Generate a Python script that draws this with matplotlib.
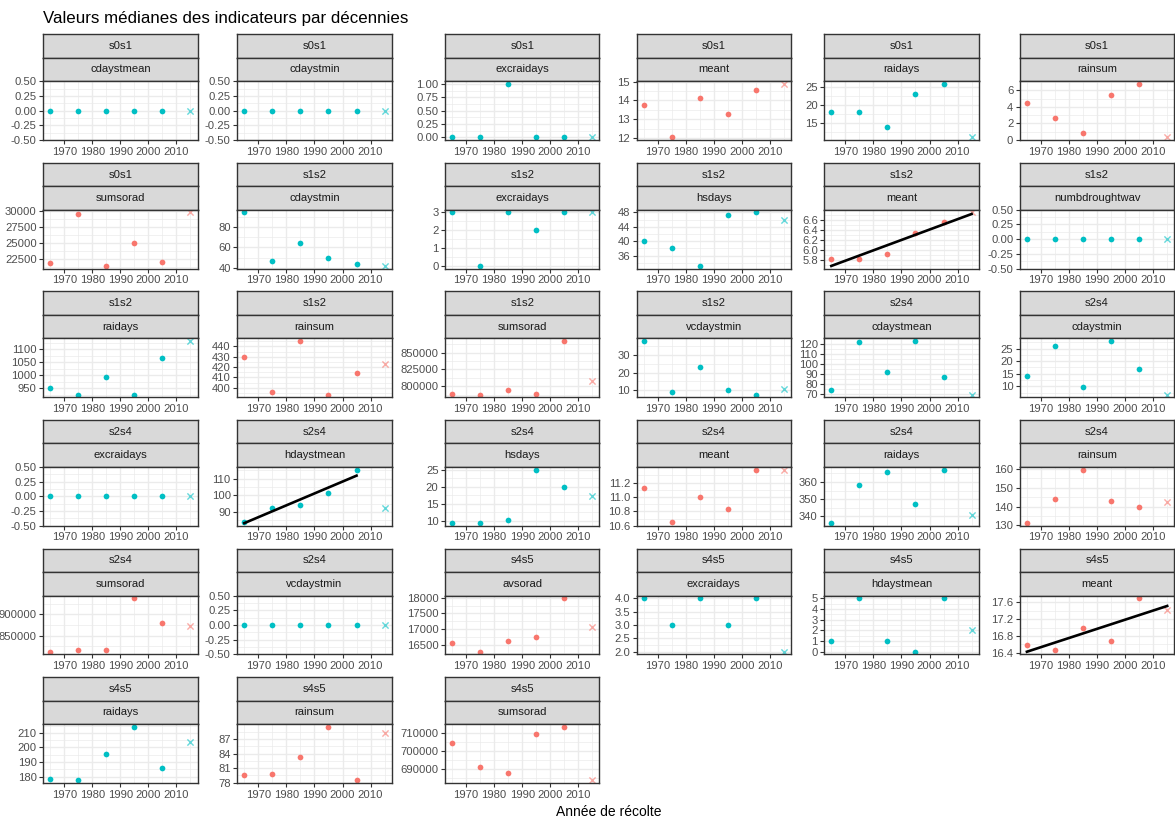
import numpy as np
import matplotlib
matplotlib.use("Agg")
import matplotlib.pyplot as plt

# ---------------- data ----------------
annees = [1965, 1975, 1985, 1995, 2005, 2015]   # last one = 2015 (drawn as a cross)
annees_x_ticks = [1970, 1980, 1990, 2000, 2010]

s0s1_cdaystmean = [0, 0, 0, 0, 0, 0]
s0s1_cdaystmin = [0, 0, 0, 0, 0, 0]
s0s1_excraidays = [0, 0, 1, 0, 0, 0]
s0s1_meant = [13.75, 12.05, 14.15, 13.3, 14.55, 14.88]
s0s1_raidays = [17.9, 17.9, 13.9, 22.9, 25.8, 11.0]
s0s1_rainsum = [4.46, 2.64, 0.89, 5.39, 6.77, 0.4]
s0s1_sumsorad = [21800, 29600, 21400, 25000, 22000, 29800]
s1s2_cdaystmin = [94, 47, 64, 50, 44, 42]
s1s2_excraidays = [3, 0, 3, 2, 3, 3]
s1s2_hsdays = [40, 38, 33.1, 47.2, 48, 46]
s1s2_meant = [5.82, 5.82, 5.93, 6.34, 6.55, 6.75]
s1s2_numbdroughtwav = [0, 0, 0, 0, 0, 0]
s1s2_raidays = [950, 925, 992, 925, 1068, 1132]
s1s2_rainsum = [429.4, 395.5, 445.2, 393.5, 413.9, 422.9]
s1s2_sumsorad = [789000, 787500, 793500, 789000, 867000, 807000]
s1s2_vcdaystmin = [37.7, 9.3, 23.2, 10.4, 7.6, 10.6]
s2s4_cdaystmean = [74, 122, 92, 123, 86.5, 69]
s2s4_cdaystmin = [14, 26, 9.7, 28, 17, 6.7]
s2s4_excraidays = [0, 0, 0, 0, 0, 0]
s2s4_hdaystmean = [84.2, 92.4, 94.2, 101.4, 115.4, 92.2]
s2s4_hsdays = [9.3, 9.3, 10.2, 25, 20, 17.2]
s2s4_meant = [11.13, 10.65, 11.0, 10.84, 11.38, 11.37]
s2s4_raidays = [336.1, 358.3, 366, 347.3, 367.2, 341]
s2s4_rainsum = [131.2, 143.8, 159.5, 142.8, 139.5, 142.6]
s2s4_sumsorad = [812500, 817000, 817000, 937500, 880000, 873500]
s2s4_vcdaystmin = [0, 0, 0, 0, 0, 0]
s4s5_avsorad = [16560, 16290, 16630, 16740, 17980, 17065]
s4s5_excraidays = [4, 3, 4, 3, 4, 2]
s4s5_hdaystmean = [1, 5, 1, 0, 5, 2]
s4s5_meant = [16.58, 16.46, 16.98, 16.69, 17.70, 17.42]
s4s5_raidays = [178.4, 177.5, 195.8, 214.1, 185.9, 204]
s4s5_rainsum = [79.6, 79.8, 83.2, 89.5, 78.5, 88.2]
s4s5_sumsorad = [704300, 691300, 687600, 709100, 713300, 683800]

stades = ["s0s1"] * 7 + ["s1s2"] * 9 + ["s2s4"] * 10 + ["s4s5"] * 7
indicateurs = ["cdaystmean", "cdaystmin", "excraidays", "meant", "raidays", "rainsum", "sumsorad",
               "cdaystmin", "excraidays", "hsdays", "meant", "numbdroughtwav", "raidays", "rainsum",
               "sumsorad", "vcdaystmin",
               "cdaystmean", "cdaystmin", "excraidays", "hdaystmean", "hsdays", "meant", "raidays",
               "rainsum", "sumsorad", "vcdaystmin",
               "avsorad", "excraidays", "hdaystmean", "meant", "raidays", "rainsum", "sumsorad"]
series = [s0s1_cdaystmean, s0s1_cdaystmin, s0s1_excraidays, s0s1_meant, s0s1_raidays, s0s1_rainsum,
          s0s1_sumsorad, s1s2_cdaystmin, s1s2_excraidays, s1s2_hsdays, s1s2_meant, s1s2_numbdroughtwav,
          s1s2_raidays, s1s2_rainsum, s1s2_sumsorad, s1s2_vcdaystmin, s2s4_cdaystmean, s2s4_cdaystmin,
          s2s4_excraidays, s2s4_hdaystmean, s2s4_hsdays, s2s4_meant, s2s4_raidays, s2s4_rainsum,
          s2s4_sumsorad, s2s4_vcdaystmin, s4s5_avsorad, s4s5_excraidays, s4s5_hdaystmean, s4s5_meant,
          s4s5_raidays, s4s5_rainsum, s4s5_sumsorad]
groupes_climat = ["meant", "rainsum", "sumsorad", "avsorad"]
# trend lines: number of leading points used in the linear fit
tendances = {("s1s2", "meant"): 6, ("s2s4", "hdaystmean"): 5, ("s4s5", "meant"): 6}

H05 = [-0.5, -0.25, 0, 0.25, 0.5]
graduations_y = [H05, H05, [0, 0.25, 0.5, 0.75, 1.0], [12, 13, 14, 15], [15, 20, 25], [0, 2, 4, 6],
                 [22500, 25000, 27500, 30000], [40, 60, 80], [0, 1, 2, 3], [36, 40, 44, 48],
                 [5.8, 6.0, 6.2, 6.4, 6.6], H05, [950, 1000, 1050, 1100], [400, 410, 420, 430, 440],
                 [800000, 825000, 850000], [10, 20, 30], [70, 80, 90, 100, 110, 120], [10, 15, 20, 25],
                 H05, [90, 100, 110], [10, 15, 20, 25], [10.6, 10.8, 11.0, 11.2], [340, 350, 360],
                 [130, 140, 150, 160], [850000, 900000], H05, [16500, 17000, 17500, 18000],
                 [2.0, 2.5, 3.0, 3.5, 4.0], [0, 1, 2, 3, 4, 5], [16.4, 16.8, 17.2, 17.6],
                 [180, 190, 200, 210], [78, 81, 84, 87], [690000, 700000, 710000]]

titre = "Valeurs médianes des indicateurs par décennies"
titre_x = "Année de récolte"

# ---------------- style ----------------
ROUGE = "#F8766D"
TURQ = "#00BFC4"
plt.rcParams["font.family"] = ["Liberation Sans", "DejaVu Sans"]
FS = 8.1

W_PX, H_PX = 1175, 819
fig = plt.figure(figsize=(W_PX / 100, H_PX / 100), dpi=100)

col_left = [43.2, 237.3, 445.1, 636.6, 824.3, 1019.9]
pan_w = 154.3
row_top0, row_pitch = 34.2, 128.6
strip_h = 23.5
pan_h = 58.8


def fr(x, y, w, h):
    return [x / W_PX, 1 - (y + h) / H_PX, w / W_PX, h / H_PX]


def fmt_ticks(t):
    dec = 0
    for v in t:
        s = ("%.6f" % v).rstrip("0").rstrip(".")
        if "." in s:
            dec = max(dec, len(s.split(".")[1]))
    return [f"{v:.{dec}f}" for v in t]


xs = np.array(annees, dtype=float)
xr = xs.max() - xs.min()
xlim = (xs.min() - 0.05 * xr, xs.max() + 0.05 * xr)

for i, (st, ind, vals) in enumerate(zip(stades, indicateurs, series)):
    r, c = divmod(i, 6)
    top = row_top0 + r * row_pitch
    x0 = col_left[c]
    colr = ROUGE if ind in groupes_climat else TURQ

    # strips
    for k, lab in enumerate([st, ind]):
        sax = fig.add_axes(fr(x0, top + k * strip_h, pan_w, strip_h))
        sax.set_facecolor("#D9D9D9")
        sax.set_xticks([]); sax.set_yticks([])
        for sp in sax.spines.values():
            sp.set_color("#333333"); sp.set_linewidth(1.0)
        sax.text(0.5, 0.5, lab, ha="center", va="center", fontsize=FS, color="#1A1A1A",
                 transform=sax.transAxes)

    ax = fig.add_axes(fr(x0, top + 2 * strip_h, pan_w, pan_h))
    v = np.array(vals, dtype=float)
    allv = list(v)
    n_fit = tendances.get((st, ind), 0)
    if n_fit:
        pcoef = np.polyfit(xs[:n_fit], v[:n_fit], 1)
        xl = np.array([xs[0], xs[n_fit - 1]])
        yl = np.polyval(pcoef, xl)
        allv += list(yl)
    lo, hi = min(allv), max(allv)
    if hi == lo:
        ylim = (lo - 0.5, hi + 0.5)
    else:
        ylim = (lo - 0.05 * (hi - lo), hi + 0.05 * (hi - lo))

    ax.scatter(xs[:-1], v[:-1], s=17, color=colr, zorder=3, linewidths=0)
    ax.scatter(xs[-1:], v[-1:], s=20, marker="x", color=colr, alpha=0.6, linewidths=1.0, zorder=3)
    if n_fit:
        ax.plot(xl, yl, color="black", lw=1.9, zorder=4)

    ax.set_xlim(xlim)
    ax.set_ylim(ylim)
    yt = graduations_y[i]
    ax.set_yticks(yt)
    ax.set_yticklabels(fmt_ticks(yt))
    step = yt[1] - yt[0]
    ext = [yt[0] - step] + list(yt) + [yt[-1] + step]
    mins = [(a + b) / 2 for a, b in zip(ext[:-1], ext[1:])]
    mins = [m for m in mins if ylim[0] <= m <= ylim[1]]
    ax.set_yticks(mins, minor=True)
    ax.set_xticks(annees_x_ticks)
    ax.set_xticklabels([str(a) for a in annees_x_ticks])
    xm = [a - 5 for a in annees_x_ticks] + [annees_x_ticks[-1] + 5]
    ax.set_xticks(xm, minor=True)

    ax.grid(which="major", color="#EBEBEB", lw=1.0, zorder=0)
    ax.grid(which="minor", color="#EBEBEB", lw=0.5, zorder=0)
    ax.set_axisbelow(True)
    ax.tick_params(which="major", length=2.6, width=0.8, color="#333333", labelsize=FS,
                   labelcolor="#4D4D4D", pad=2.1)
    ax.tick_params(which="minor", length=0)
    for sp in ax.spines.values():
        sp.set_color("#333333"); sp.set_linewidth(1.0)
        sp.set_zorder(5)

fig.text(col_left[0] / W_PX, 1 - 18.3 / H_PX, titre, ha="left", va="center", fontsize=12.2,
         color="black")
fig.text((col_left[0] + col_left[-1] + pan_w) / 2 / W_PX, 1 - 812 / H_PX, titre_x, ha="center",
         va="center", fontsize=10.0, color="black")

fig.savefig("out.png", dpi=100)
